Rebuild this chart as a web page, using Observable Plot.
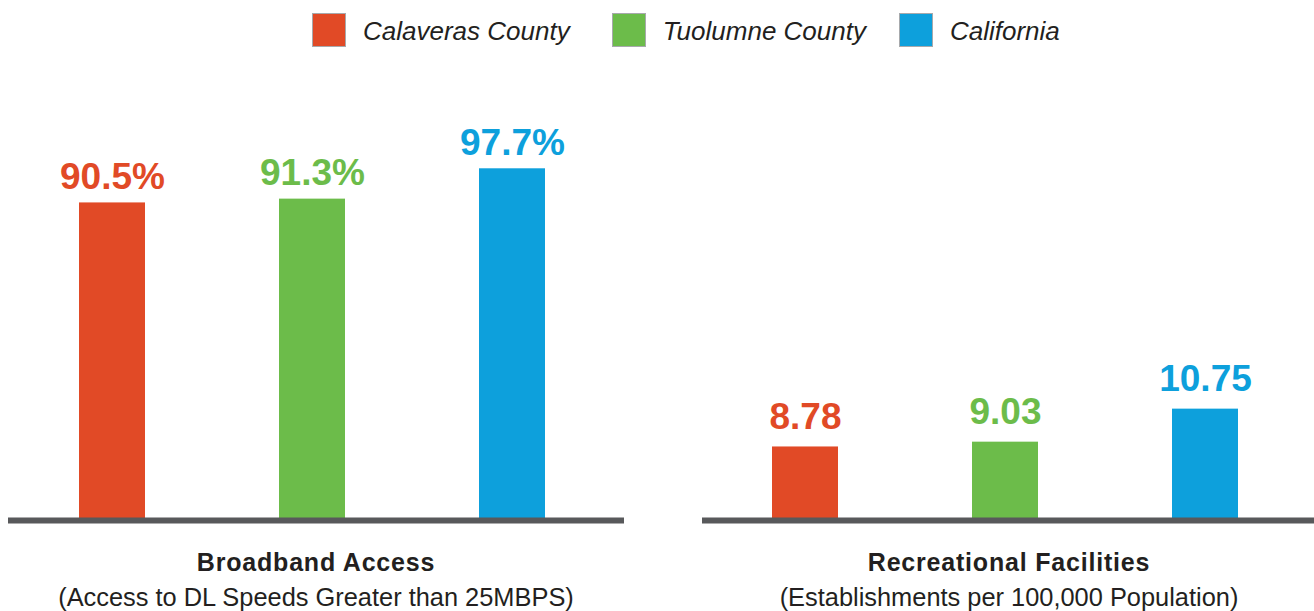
<!DOCTYPE html>
<html>
<head>
<meta charset="utf-8">
<script src="https://cdn.jsdelivr.net/npm/d3@7"></script>
<script src="https://cdn.jsdelivr.net/npm/@observablehq/plot@0.6"></script>
<style>
  html, body { margin: 0; padding: 0; background: #fff; }
  #page { position: relative; width: 1314px; height: 611px; overflow: hidden; font-family: "Liberation Sans", Arial, Helvetica, sans-serif; color: #231f20; }
  #legend { position: absolute; left: 312px; top: 13px; display: flex; align-items: center; }
  .item { display: flex; align-items: center; }
  .swatch { width: 34px; height: 34px; box-sizing: border-box; border: 1px solid #a7a9ac; }
  .ltext { margin-left: 17px; font-size: 26px; font-style: italic; line-height: 34px; color: #231f20; position: relative; top: 1px; }
  .title { position: absolute; text-align: center; font-weight: bold; font-size: 25px; line-height: 25px; letter-spacing: 0.8px; white-space: nowrap; }
  .sub { position: absolute; text-align: center; font-size: 25.4px; line-height: 25.4px; white-space: nowrap; color: #231f20; }
  .panel { position: absolute; top: 70px; }
</style>
</head>
<body>
<div id="page">
  <div id="legend"></div>
</div>
<script>
// ---- data ----
const regions = ["Calaveras County", "Tuolumne County", "California"];
const colors = ["#E14A26", "#6CBC4A", "#0DA0DC"];
const broadband = [90.5, 91.3, 97.7];
const broadbandLabels = ["90.5%", "91.3%", "97.7%"];
const recreation = [8.78, 9.03, 10.75];
const recreationLabels = ["8.78", "9.03", "10.75"];
const panelTitles = ["Broadband Access", "Recreational Facilities"];
const panelSubtitles = ["(Access to DL Speeds Greater than 25MBPS)", "(Establishments per 100,000 Population)"];

const page = document.getElementById("page");

// legend
const legend = document.getElementById("legend");
const itemGaps = [42, 33, 0];
regions.forEach((r, i) => {
  const item = document.createElement("div");
  item.className = "item";
  item.style.marginRight = itemGaps[i] + "px";
  const sw = document.createElement("div");
  sw.className = "swatch";
  sw.style.background = colors[i];
  const tx = document.createElement("span");
  tx.className = "ltext";
  tx.textContent = r;
  item.appendChild(sw);
  item.appendChild(tx);
  legend.appendChild(item);
});

function panel(values, labels, opts) {
  const data = regions.map((r, i) => ({region: r, value: values[i], label: labels[i]}));
  const base = opts.base;
  const H = 460, mb = 10;
  const top = base + (H - mb) / opts.pxPerUnit;
  return Plot.plot({
    width: 657,
    height: H,
    marginTop: 0,
    marginBottom: mb,
    marginLeft: 0,
    marginRight: 0,
    style: {background: "transparent", fontFamily: "Liberation Sans, Arial, Helvetica, sans-serif"},
    x: {domain: regions, range: opts.xRange, paddingInner: 0.671, paddingOuter: 0, axis: null},
    y: {domain: [base, top], axis: null},
    color: {domain: regions, range: colors},
    marks: [
      Plot.barY(data, {x: "region", y1: base, y2: "value", fill: "region"}),
      Plot.ruleY([base], {stroke: "#58595b", strokeWidth: 6, insetLeft: opts.insetLeft, insetRight: opts.insetRight}),
      Plot.text(data, {x: "region", y: "value", text: "label", fill: "region", fontSize: 37, fontWeight: "bold", lineAnchor: "bottom", dy: opts.dy})
    ]
  });
}

const left = panel(broadband, broadbandLabels, {base: 23.5, pxPerUnit: 4.74, xRange: [78, 545], insetLeft: 8, insetRight: 33, dy: -14});
left.classList.add("panel");
left.style.left = "0px";
page.appendChild(left);

const right = panel(recreation, recreationLabels, {base: 4.95, pxPerUnit: 19.2, xRange: [115, 581], insetLeft: 45, insetRight: 0, dy: -18});
right.classList.add("panel");
right.style.left = "657px";
page.appendChild(right);

// titles below panels
const centers = [316, 1009];
panelTitles.forEach((t, i) => {
  const d = document.createElement("div");
  d.className = "title";
  d.textContent = t;
  d.style.left = (centers[i] - 300) + "px";
  d.style.width = "600px";
  d.style.top = "550px";
  page.appendChild(d);
  const s = document.createElement("div");
  s.className = "sub";
  s.textContent = panelSubtitles[i];
  s.style.left = (centers[i] - 300) + "px";
  s.style.width = "600px";
  s.style.top = "585px";
  page.appendChild(s);
});
</script>
</body>
</html>
